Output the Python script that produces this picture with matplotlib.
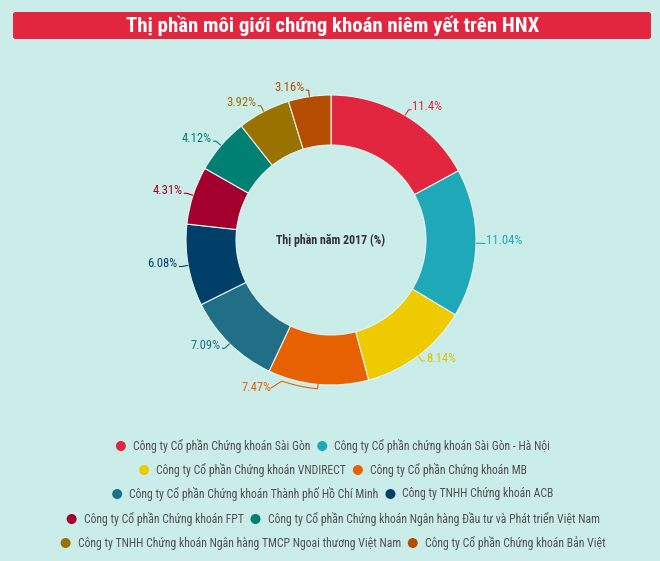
import matplotlib
matplotlib.use("Agg")
import matplotlib.pyplot as plt
from matplotlib import font_manager
from matplotlib.patches import FancyBboxPatch, Circle
import numpy as np

# ---------------- data ----------------
companies = [
    "Công ty Cổ phần Chứng khoán Sài Gòn",
    "Công ty Cổ phần chứng khoán Sài Gòn - Hà Nội",
    "Công ty Cổ phần Chứng khoán VNDIRECT",
    "Công ty Cổ phần Chứng khoán MB",
    "Công ty Cổ phần Chứng khoán Thành phố Hồ Chí Minh",
    "Công ty TNHH Chứng khoán ACB",
    "Công ty Cổ phần Chứng khoán FPT",
    "Công ty Cổ phần Chứng khoán Ngân hàng Đầu tư và Phát triển Việt Nam",
    "Công ty TNHH Chứng khoán Ngân hàng TMCP Ngoại thương Việt Nam",
    "Công ty Cổ phần Chứng khoán Bản Việt",
]
shares = [11.4, 11.04, 8.14, 7.47, 7.09, 6.08, 4.31, 4.12, 3.92, 3.16]
share_labels = ["11.4%", "11.04%", "8.14%", "7.47%", "7.09%", "6.08%",
                "4.31%", "4.12%", "3.92%", "3.16%"]
colors = ["#e2263f", "#1fa8b8", "#eecb00", "#e86100", "#216e87",
          "#003f68", "#a3002f", "#007f73", "#9a7200", "#b44d00"]
label_colors = ["#e2263f", "#1fa8b8", "#e3c000", "#e86100", "#216e87",
                "#003f68", "#a3002f", "#007f73", "#9a7200", "#b44d00"]
legend_rows = [[0, 1], [2, 3], [4, 5], [6, 7], [8, 9]]
title = "Thị phần môi giới chứng khoán niêm yết trên HNX"
center_text = "Thị phần năm 2017 (%)"

# layout only: pixel nudges for labels moved aside (collision avoidance)
label_nudge = {3: (-46, -4)}

# ---------------- fonts ----------------
avail = {f.name for f in font_manager.fontManager.ttflist}
main_font = "DejaVu Sans"
for cand in ["Liberation Sans Narrow", "DejaVu Sans Condensed",
             "Roboto Condensed", "Open Sans Condensed", "Lato"]:
    if cand in avail:
        main_font = cand
        break
plt.rcParams["font.family"] = [main_font, "DejaVu Sans"]

W, H = 660, 561
BG = "#cbede9"
fig = plt.figure(figsize=(W / 100, H / 100), dpi=100, facecolor=BG)
fig.canvas.draw()
renderer = fig.canvas.get_renderer()

def fx(px):
    return px / W

def fy(py):
    return 1 - py / H

def text_width(s, fs, weight="normal"):
    t = fig.text(0, 0, s, fontsize=fs, fontweight=weight)
    bb = t.get_window_extent(renderer)
    t.remove()
    return bb.width

def fit(s, target, weight="normal"):
    return 10 * target / text_width(s, 10, weight)

# ---------------- title bar ----------------
bar = FancyBboxPatch((fx(13), fy(39)), fx(651) - fx(13), fy(12) - fy(39),
                     boxstyle="round,pad=0,rounding_size=0.004",
                     transform=fig.transFigure, facecolor="#e2263f",
                     edgecolor="none")
fig.patches.append(bar)
fig.text(fx(333), fy(26), title, color="white", fontsize=fit(title, 415, "bold"),
         fontweight="bold", ha="center", va="center")

# ---------------- donut ----------------
cx, cy, R = 331, 240, 145
half = 225
ax = fig.add_axes([fx(cx - half), fy(cy + half), 2 * half / W, 2 * half / H])
ax.set_facecolor("none")

wedges, _ = ax.pie(shares, colors=colors, startangle=90, counterclock=False,
                   radius=1.0,
                   wedgeprops=dict(width=0.345, edgecolor="#e4f5f2",
                                   linewidth=0.8))
lim = half / R
ax.set_xlim(-lim, lim)
ax.set_ylim(-lim, lim)
ax.set_aspect("equal")
ax.axis("off")

lab_fs = fit("11.04%", 36)
u = 1.0 / R  # one pixel in data units
for k, (w, lab, col) in enumerate(zip(wedges, share_labels, label_colors)):
    theta = np.deg2rad((w.theta1 + w.theta2) / 2)
    c, s = np.cos(theta), np.sin(theta)
    p0 = (1.0 * c, 1.0 * s)
    if k in label_nudge:
        nx, ny = label_nudge[k]
        p1 = (1.05 * c + nx * u, 1.05 * s - ny * u)
        side = 1 if p1[0] >= 0 else -1
        # connector hugging the ring, then to the label
        th_end = theta + np.deg2rad(14) * (-1 if nx < 0 else 1) * (1 if s < 0 else -1)
        arc = np.linspace(theta, th_end, 20)
        xs = list(1.03 * np.cos(arc))
        ys = list(1.03 * np.sin(arc))
        xs = [p0[0]] + xs + [p1[0] + side * 0.0]
        ys = [p0[1]] + ys + [p1[1]]
        ax.plot(xs, ys, color=col, lw=0.8)
        tx, ty = p1
    else:
        side = 1 if c >= 0 else -1
        p1 = (1.045 * c, 1.045 * s)
        p2 = (p1[0] + side * 3 * u, p1[1])
        ax.plot([p0[0], p1[0], p2[0]], [p0[1], p1[1], p2[1]], color=col,
                lw=0.8, solid_capstyle="butt")
        tx, ty = p2[0] + side * 1 * u, p2[1] + 3 * u
    ax.text(tx, ty, lab, color=col, fontsize=lab_fs,
            ha="left" if side > 0 else "right", va="center")

ax.text(0, 0, center_text, ha="center", va="center",
        fontsize=fit(center_text, 109, "bold"),
        fontweight="bold", color="#333333")

# ---------------- legend ----------------
row_y = [446, 470, 494, 519, 543]
marker_r = 5
marker_gap = 12   # marker centre to text start
item_gap = 12     # text end to next marker centre

# choose a font size so the widest row spans about 552 px like the reference
w10 = [sum(text_width(companies[i], 10) for i in row) for row in legend_rows]
fixed = 2 * marker_gap + item_gap + 2 * marker_r
leg_fs = 10 * (552 - fixed) / max(w10)

for row, yy in zip(legend_rows, row_y):
    widths = [text_width(companies[i], leg_fs) for i in row]
    total = sum(marker_gap + w for w in widths) + item_gap * (len(row) - 1) + marker_r
    x = 333 - total / 2 + marker_r
    for i, wdt in zip(row, widths):
        circ = Circle((x / 100, (H - yy) / 100), radius=marker_r / 100,
                      transform=fig.dpi_scale_trans, facecolor=colors[i],
                      edgecolor="none")
        fig.patches.append(circ)
        fig.text(fx(x + marker_gap), fy(yy), companies[i], fontsize=leg_fs,
                 color="#505050", ha="left", va="center")
        x += marker_gap + wdt + item_gap

fig.savefig("out.png", dpi=100, facecolor=BG)
